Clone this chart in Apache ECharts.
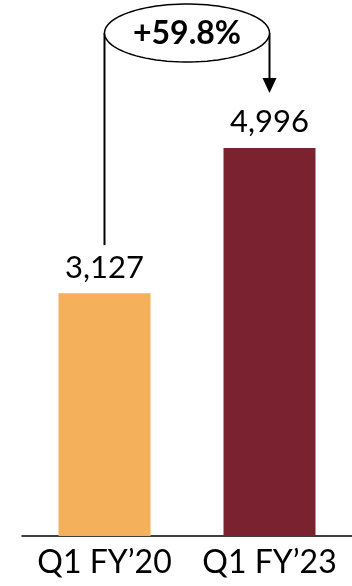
<!DOCTYPE html>
<html><head><meta charset="utf-8">
<script src="https://cdn.jsdelivr.net/npm/echarts@6/dist/echarts.min.js"></script>
<style>html,body{margin:0;padding:0;background:#fff}#c{width:352px;height:586px}</style>
</head><body><div id="c"></div>
<script>
const categories = ["Q1 FY\u201920", "Q1 FY\u201923"];
const values = [3127, 4996];
const barColors = ["#F5B05C", "#7A2230"];
const growthLabel = "+59.8%";

const chart = echarts.init(document.getElementById('c'), null, {renderer: 'canvas'});
const FONT = 'Lato, "Open Sans", sans-serif';
chart.setOption({
  animation: false,
  backgroundColor: '#fff',
  grid: {left: 22, right: 0, top: 70, bottom: 50, containLabel: false},
  xAxis: {
    type: 'category', data: categories,
    axisLine: {lineStyle: {color: '#000', width: 1.5}},
    axisTick: {show: false},
    axisLabel: {color: '#000', fontSize: 32, fontFamily: FONT, margin: 11, interval: 0, hideOverlap: false}
  },
  yAxis: {type: 'value', min: 0, max: 6000, show: false, axisLine: {show: false}, splitLine: {show: false}},
  series: [{
    type: 'bar', barWidth: 92,
    data: values.map((v, i) => ({value: v, itemStyle: {color: barColors[i]}})),
    label: {show: true, position: 'top', distance: 10, color: '#000', fontSize: 31, fontFamily: FONT,
      formatter: p => p.value.toLocaleString('en-US')}
  }]
});

// Annotation positioned from the chart's own scales
const p1 = chart.convertToPixel({seriesIndex: 0}, [0, values[0]]);
const p2 = chart.convertToPixel({seriesIndex: 0}, [1, values[1]]);
const x1 = p1[0], x2 = p2[0];
const yTop = 33;
const cx = (x1 + x2) / 2, rx = (x2 - x1) / 2, ry = 29;
const pts = [];
for (let i = 0; i < 90; i++) { const a = i / 90 * Math.PI * 2; pts.push([cx + rx * Math.cos(a), yTop + ry * Math.sin(a)]); }
const lineBottom = p1[1] - 48;
const arrowTip = p2[1] - 55;
chart.setOption({
  graphic: [
    {type: 'line', shape: {x1: x1, y1: yTop, x2: x1, y2: lineBottom}, style: {stroke: '#000', lineWidth: 2}},
    {type: 'line', shape: {x1: x2, y1: yTop, x2: x2, y2: arrowTip - 12}, style: {stroke: '#000', lineWidth: 2}},
    {type: 'polygon', shape: {points: [[x2 - 7, arrowTip - 15], [x2 + 7, arrowTip - 15], [x2, arrowTip]]}, style: {fill: '#000'}},
    {type: 'polygon', shape: {points: pts}, style: {fill: '#fff', stroke: '#000', lineWidth: 1.5}},
    {type: 'text', x: cx, y: yTop + 1, style: {text: growthLabel, fill: '#000', fontSize: 32, fontWeight: 'bold', fontFamily: FONT, align: 'center', verticalAlign: 'middle'}}
  ]
});
</script></body></html>
